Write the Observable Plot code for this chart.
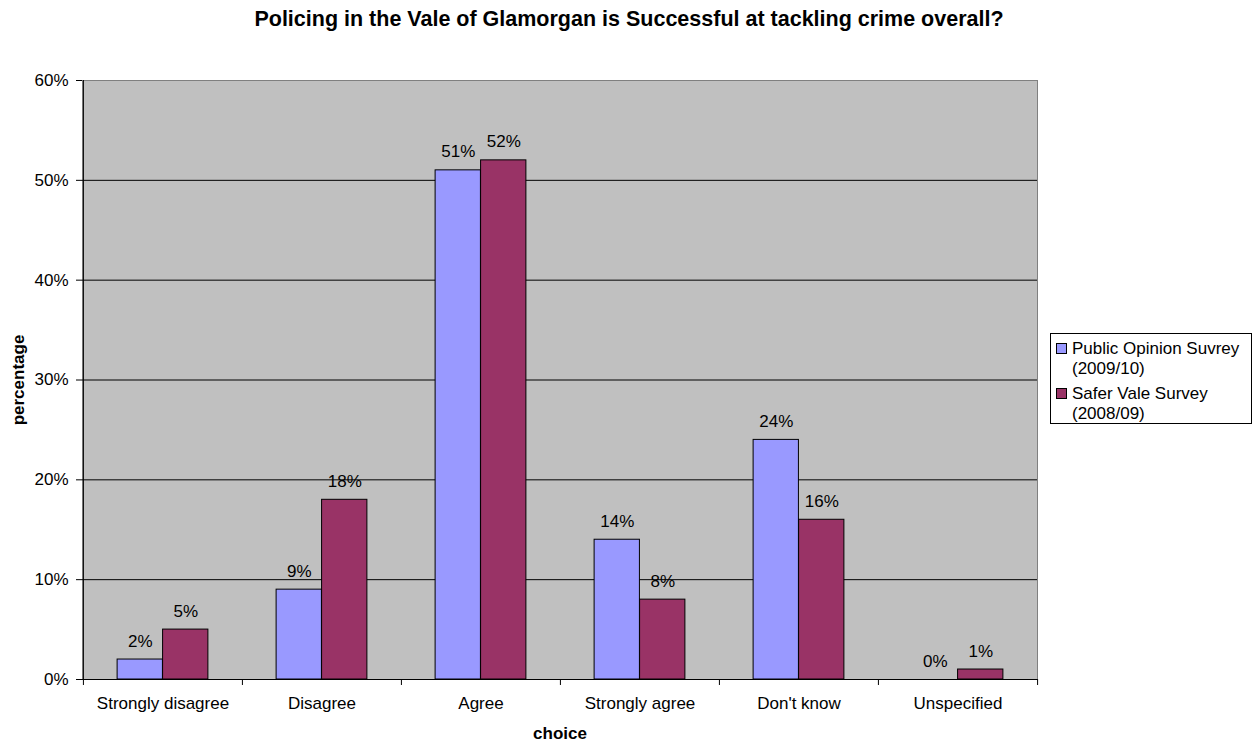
<!DOCTYPE html>
<html>
<head>
<meta charset="utf-8">
<script src="https://cdn.jsdelivr.net/npm/d3@7"></script>
<script src="https://cdn.jsdelivr.net/npm/@observablehq/plot@0.6"></script>
<style>
  body { margin: 0; background: #fff; font-family: "Liberation Sans", Arial, sans-serif; }
  #wrap { position: relative; width: 1257px; height: 742px; }
  #legend { position: absolute; left: 1050px; top: 333px; width: 200px; height: 89px; border: 1px solid #000; background: #fff; font-size: 17px; line-height: 20px; color: #000; }
  .item { position: absolute; left: 5px; padding-left: 16px; }
  .sw { position: absolute; left: 0; top: 4px; width: 9px; height: 9px; border: 1px solid #000; }
</style>
</head>
<body>
<div id="wrap">
  <div id="chart"></div>
  <div id="legend"></div>
</div>
<script>
const title = "Policing in the Vale of Glamorgan is Successful at tackling crime overall?";
const categories = ["Strongly disagree", "Disagree", "Agree", "Strongly agree", "Don't know", "Unspecified"];
const legendLines = [["Public Opinion Suvrey", "(2009/10)"], ["Safer Vale Survey", "(2008/09)"]];
const publicOpinion = [0.02, 0.09, 0.51, 0.14, 0.24, 0.00];
const saferVale = [0.05, 0.18, 0.52, 0.08, 0.16, 0.01];
const colors = ["#9999FF", "#993366"];
const yTicks = [0, 0.1, 0.2, 0.3, 0.4, 0.5, 0.6];

const W = 1257, H = 742;
const mL = 82, mR = 220, mT = 80, mB = 63;
const bw = (W - mL - mR) / categories.length;   // category band width
const barW = bw / 3.5;                            // Excel gap width 150%
const gap = bw * 0.75 / 3.5;
const titleDx = W / 2 - (mL + (W - mL - mR) / 2);

const seriesValues = [publicOpinion, saferVale];
const fmt = d3.format(".0%");

const marks = [
  Plot.frame({fill: "#C0C0C0", stroke: "#808080"}),
  Plot.ruleY(yTicks.filter(d => d > 0 && d < 0.6), {stroke: "#000", strokeWidth: 1}),
];
seriesValues.forEach((vals, s) => {
  const data = categories.map((c, i) => ({c, v: vals[i]}));
  const insetLeft = s === 0 ? gap : bw / 2;
  const insetRight = s === 0 ? bw / 2 : gap;
  marks.push(Plot.barY(data.filter(d => d.v > 0), {x: "c", y: "v", fill: colors[s], stroke: "#000", strokeWidth: 1, insetLeft, insetRight}));
  marks.push(Plot.text(data, {x: "c", y: "v", text: d => fmt(d.v), dx: (s === 0 ? -1 : 1) * barW / 2, dy: -13, lineAnchor: "bottom", fontSize: 17, fill: "#000"}));
});
marks.push(
  Plot.ruleY([0], {stroke: "#000"}),
  Plot.ruleX([categories[0]], {y1: 0, y2: 0.6, dx: -bw / 2, stroke: "#000"}),
  Plot.ruleX(categories, {y1: 0, y2: -0.006, dx: -bw / 2, stroke: "#000"}),
  Plot.ruleX([categories[categories.length - 1]], {y1: 0, y2: -0.006, dx: bw / 2, stroke: "#000"}),
  Plot.axisY({ticks: yTicks, tickFormat: fmt, tickSize: 6, tickPadding: 8, fontSize: 17, label: null}),
  Plot.axisX({tickSize: 0, tickPadding: 17, fontSize: 17, label: null}),
  Plot.text([title], {frameAnchor: "top", lineAnchor: "middle", dx: titleDx, dy: -61, fontSize: 21.5, fontWeight: "bold", fill: "#000"}),
  Plot.text(["choice"], {frameAnchor: "bottom", lineAnchor: "middle", dy: 54, fontSize: 17, fontWeight: "bold", fill: "#000"}),
  Plot.text(["percentage"], {frameAnchor: "left", textAnchor: "middle", dx: -64, rotate: -90, fontSize: 17, fontWeight: "bold", fill: "#000"})
);

const chart = Plot.plot({
  width: W, height: H,
  marginLeft: mL, marginRight: mR, marginTop: mT, marginBottom: mB,
  style: {fontFamily: "'Liberation Sans', Arial, sans-serif", background: "#fff", color: "#000", overflow: "visible"},
  x: {type: "band", domain: categories, padding: 0, label: null},
  y: {domain: [0, 0.6], label: null},
  marks
});
document.getElementById("chart").appendChild(chart);

const legend = document.getElementById("legend");
legendLines.forEach((lines, s) => {
  const item = document.createElement("div");
  item.className = "item";
  item.style.top = (s === 0 ? 5 : 50) + "px";
  item.innerHTML = `<span class="sw" style="background:${colors[s]}"></span>${lines[0]}<br>${lines[1]}`;
  legend.appendChild(item);
});
</script>
</body>
</html>
